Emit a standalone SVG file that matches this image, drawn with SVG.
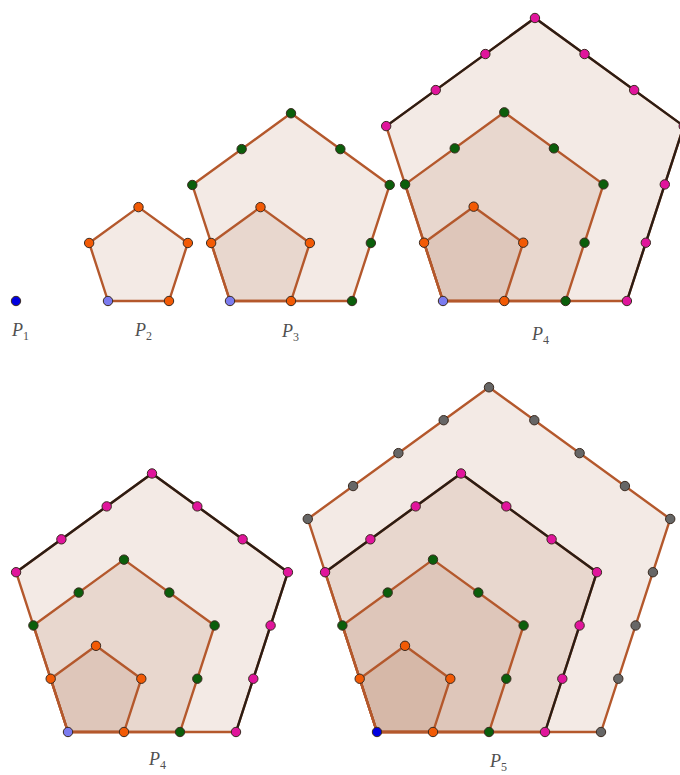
<svg xmlns="http://www.w3.org/2000/svg" width="680" height="775" viewBox="0 0 680 775">
<style>
.pent{fill:#a0522d;fill-opacity:0.12;stroke:#b4582c;stroke-width:2.4;stroke-linejoin:round}
.dark{fill:none;stroke:#2b1d15;stroke-width:2.4;stroke-linejoin:round;stroke-linecap:round}
circle{stroke:#3a2a20;stroke-width:1;r:4.7px}
.d0{fill:#7b7bef}
.db{fill:#0000e0}
.d1{fill:#f25a05}
.d2{fill:#0b5e0b}
.d3{fill:#e0159c}
.d4{fill:#666666}
.lbl{font-family:"Liberation Serif",serif;font-style:italic;font-size:18px;fill:#505050}
.sub{font-style:normal;font-size:12px}
</style>
<rect width="680" height="775" fill="#ffffff"/>

<g id="P1">
<circle class="db" cx="16" cy="301" r="4.7"/>
<text class="lbl" x="12" y="336">P<tspan class="sub" dy="3.5">1</tspan></text>
</g>

<g id="P2">
<polygon class="pent" points="108,301 169,301 187.85,242.99 138.5,207.13 89.15,242.99"/>
<g>
<circle class="d1" cx="89.15" cy="242.99" r="4.7"/>
<circle class="d1" cx="138.5" cy="207.13" r="4.7"/>
<circle class="d1" cx="187.85" cy="242.99" r="4.7"/>
<circle class="d1" cx="169" cy="301" r="4.7"/>
<circle class="d0" cx="108" cy="301" r="4.7"/>
</g>
<text class="lbl" x="135" y="336">P<tspan class="sub" dy="3.5">2</tspan></text>
</g>

<g id="P3">
<polygon class="pent" points="230,301 352,301 389.7,184.97 291,113.26 192.3,184.97"/>
<polygon class="pent" points="230,301 291,301 309.85,242.99 260.5,207.13 211.15,242.99"/>
<g>
<circle class="d2" cx="192.3" cy="184.97" r="4.7"/>
<circle class="d2" cx="241.65" cy="149.12" r="4.7"/>
<circle class="d2" cx="291" cy="113.26" r="4.7"/>
<circle class="d2" cx="340.35" cy="149.12" r="4.7"/>
<circle class="d2" cx="389.7" cy="184.97" r="4.7"/>
<circle class="d2" cx="370.85" cy="242.99" r="4.7"/>
<circle class="d2" cx="352" cy="301" r="4.7"/>
<circle class="d1" cx="211.15" cy="242.99" r="4.7"/>
<circle class="d1" cx="260.5" cy="207.13" r="4.7"/>
<circle class="d1" cx="309.85" cy="242.99" r="4.7"/>
<circle class="d1" cx="291" cy="301" r="4.7"/>
<circle class="d0" cx="230" cy="301" r="4.7"/>
</g>
<text class="lbl" x="282" y="337">P<tspan class="sub" dy="3.5">3</tspan></text>
</g>

<g id="P4-top">
<polygon class="pent" points="443,301 626.9,301 683.73,126.1 534.95,18 386.17,126.1"/>
<polygon class="pent" points="443,301 565.6,301 603.49,184.4 504.3,112.33 405.11,184.4"/>
<polygon class="pent" points="443,301 504.3,301 523.24,242.7 473.65,206.67 424.06,242.7"/>
<polyline class="dark" points="386.17,126.1 534.95,18 683.73,126.1 626.9,301"/>
<g>
<circle class="d3" cx="386.17" cy="126.1" r="4.7"/>
<circle class="d3" cx="435.76" cy="90.07" r="4.7"/>
<circle class="d3" cx="485.36" cy="54.04" r="4.7"/>
<circle class="d3" cx="534.95" cy="18" r="4.7"/>
<circle class="d3" cx="584.54" cy="54.04" r="4.7"/>
<circle class="d3" cx="634.14" cy="90.07" r="4.7"/>
<circle class="d3" cx="683.73" cy="126.1" r="4.7"/>
<circle class="d3" cx="664.79" cy="184.4" r="4.7"/>
<circle class="d3" cx="645.84" cy="242.7" r="4.7"/>
<circle class="d3" cx="626.9" cy="301" r="4.7"/>
<circle class="d2" cx="405.11" cy="184.4" r="4.7"/>
<circle class="d2" cx="454.71" cy="148.37" r="4.7"/>
<circle class="d2" cx="504.3" cy="112.33" r="4.7"/>
<circle class="d2" cx="553.89" cy="148.37" r="4.7"/>
<circle class="d2" cx="603.49" cy="184.4" r="4.7"/>
<circle class="d2" cx="584.54" cy="242.7" r="4.7"/>
<circle class="d2" cx="565.6" cy="301" r="4.7"/>
<circle class="d1" cx="424.06" cy="242.7" r="4.7"/>
<circle class="d1" cx="473.65" cy="206.67" r="4.7"/>
<circle class="d1" cx="523.24" cy="242.7" r="4.7"/>
<circle class="d1" cx="504.3" cy="301" r="4.7"/>
<circle class="d0" cx="443" cy="301" r="4.7"/>
</g>
<text class="lbl" x="532" y="340">P<tspan class="sub" dy="3.5">4</tspan></text>
</g>

<g id="P4-bottom">
<polygon class="pent" points="68,732 236,732 287.92,572.22 152,473.47 16.08,572.22"/>
<polygon class="pent" points="68,732 180,732 214.61,625.48 124,559.65 33.39,625.48"/>
<polygon class="pent" points="68,732 124,732 141.31,678.74 96,645.82 50.69,678.74"/>
<polyline class="dark" points="16.08,572.22 152,473.47 287.92,572.22 236,732"/>
<g>
<circle class="d3" cx="16.08" cy="572.22" r="4.7"/>
<circle class="d3" cx="61.39" cy="539.31" r="4.7"/>
<circle class="d3" cx="106.69" cy="506.39" r="4.7"/>
<circle class="d3" cx="152" cy="473.47" r="4.7"/>
<circle class="d3" cx="197.31" cy="506.39" r="4.7"/>
<circle class="d3" cx="242.61" cy="539.31" r="4.7"/>
<circle class="d3" cx="287.92" cy="572.22" r="4.7"/>
<circle class="d3" cx="270.61" cy="625.48" r="4.7"/>
<circle class="d3" cx="253.31" cy="678.74" r="4.7"/>
<circle class="d3" cx="236" cy="732" r="4.7"/>
<circle class="d2" cx="33.39" cy="625.48" r="4.7"/>
<circle class="d2" cx="78.69" cy="592.57" r="4.7"/>
<circle class="d2" cx="124" cy="559.65" r="4.7"/>
<circle class="d2" cx="169.31" cy="592.57" r="4.7"/>
<circle class="d2" cx="214.61" cy="625.48" r="4.7"/>
<circle class="d2" cx="197.31" cy="678.74" r="4.7"/>
<circle class="d2" cx="180" cy="732" r="4.7"/>
<circle class="d1" cx="50.69" cy="678.74" r="4.7"/>
<circle class="d1" cx="96" cy="645.82" r="4.7"/>
<circle class="d1" cx="141.31" cy="678.74" r="4.7"/>
<circle class="d1" cx="124" cy="732" r="4.7"/>
<circle class="d0" cx="68" cy="732" r="4.7"/>
</g>
<text class="lbl" x="149" y="765">P<tspan class="sub" dy="3.5">4</tspan></text>
</g>

<g id="P5">
<polygon class="pent" points="377,732 601,732 670.22,518.96 489,387.3 307.78,518.96"/>
<polygon class="pent" points="377,732 545,732 596.92,572.22 461,473.47 325.08,572.22"/>
<polygon class="pent" points="377,732 489,732 523.61,625.48 433,559.65 342.39,625.48"/>
<polygon class="pent" points="377,732 433,732 450.31,678.74 405,645.82 359.69,678.74"/>
<polyline class="dark" points="325.08,572.22 461,473.47 596.92,572.22 545,732"/>
<g>
<circle class="d4" cx="307.78" cy="518.96" r="4.7"/>
<circle class="d4" cx="353.08" cy="486.05" r="4.7"/>
<circle class="d4" cx="398.39" cy="453.13" r="4.7"/>
<circle class="d4" cx="443.69" cy="420.21" r="4.7"/>
<circle class="d4" cx="489" cy="387.3" r="4.7"/>
<circle class="d4" cx="534.31" cy="420.22" r="4.7"/>
<circle class="d4" cx="579.61" cy="453.13" r="4.7"/>
<circle class="d4" cx="624.92" cy="486.05" r="4.7"/>
<circle class="d4" cx="670.22" cy="518.96" r="4.7"/>
<circle class="d4" cx="652.92" cy="572.22" r="4.7"/>
<circle class="d4" cx="635.61" cy="625.48" r="4.7"/>
<circle class="d4" cx="618.31" cy="678.74" r="4.7"/>
<circle class="d4" cx="601" cy="732" r="4.7"/>
<circle class="d3" cx="325.08" cy="572.22" r="4.7"/>
<circle class="d3" cx="370.39" cy="539.31" r="4.7"/>
<circle class="d3" cx="415.69" cy="506.39" r="4.7"/>
<circle class="d3" cx="461" cy="473.47" r="4.7"/>
<circle class="d3" cx="506.31" cy="506.39" r="4.7"/>
<circle class="d3" cx="551.61" cy="539.31" r="4.7"/>
<circle class="d3" cx="596.92" cy="572.22" r="4.7"/>
<circle class="d3" cx="579.61" cy="625.48" r="4.7"/>
<circle class="d3" cx="562.31" cy="678.74" r="4.7"/>
<circle class="d3" cx="545" cy="732" r="4.7"/>
<circle class="d2" cx="342.39" cy="625.48" r="4.7"/>
<circle class="d2" cx="387.69" cy="592.57" r="4.7"/>
<circle class="d2" cx="433" cy="559.65" r="4.7"/>
<circle class="d2" cx="478.31" cy="592.57" r="4.7"/>
<circle class="d2" cx="523.61" cy="625.48" r="4.7"/>
<circle class="d2" cx="506.31" cy="678.74" r="4.7"/>
<circle class="d2" cx="489" cy="732" r="4.7"/>
<circle class="d1" cx="359.69" cy="678.74" r="4.7"/>
<circle class="d1" cx="405" cy="645.82" r="4.7"/>
<circle class="d1" cx="450.31" cy="678.74" r="4.7"/>
<circle class="d1" cx="433" cy="732" r="4.7"/>
<circle class="db" cx="377" cy="732" r="4.7"/>
</g>
<text class="lbl" x="490" y="767">P<tspan class="sub" dy="3.5">5</tspan></text>
</g>
</svg>
